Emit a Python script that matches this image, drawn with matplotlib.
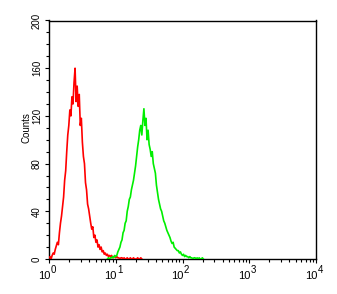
import numpy as np
import matplotlib
matplotlib.use("Agg")
import matplotlib.pyplot as plt
from matplotlib.ticker import FixedLocator, NullFormatter, LogLocator

plt.rcParams['font.family'] = ['Liberation Sans', 'DejaVu Sans']

# histogram channels: 64 channels per decade, 4 decades
channels_per_decade = 64
red_start_channel = 0
green_start_channel = 56

red_counts = [1, 2, 0, 3, 5, 4, 8, 11, 14, 12, 22, 30, 36, 44, 52, 66, 74, 90, 104, 112,
              125, 120, 136, 130, 148, 160, 132, 145, 128, 138, 112, 118, 98, 86, 80, 64,
              58, 46, 42, 36, 30, 25, 27, 18, 20, 14, 16, 10, 12, 8, 10, 6, 7, 4, 5, 3,
              4, 2, 3, 2, 3, 1, 2, 2, 1, 2, 1, 1, 0, 1, 1, 0, 1, 0, 0, 1, 0, 0, 1, 0,
              0, 1, 0, 0, 0, 1, 0, 0, 1, 0]

green_counts = [0, 1, 0, 1, 1, 2, 1, 3, 2, 3, 6, 8, 10, 14, 16, 22, 24, 30, 32, 40,
                44, 50, 52, 58, 62, 66, 72, 78, 86, 94, 100, 108, 112, 104, 116, 126, 112,
                118, 100, 108, 96, 92, 86, 90, 80, 76, 72, 62, 56, 50, 46, 42, 40, 36, 32,
                30, 27, 24, 22, 20, 18, 15, 13, 14, 10, 9, 8, 7, 7, 5, 6, 4, 3, 4, 2, 3,
                2, 2, 1, 2, 1, 1, 0, 1, 1, 0, 1, 0, 1, 0, 0, 1, 0]

y_ticks = [0, 40, 80, 120, 160, 200]
x_ticks = [1, 10, 100, 1000, 10000]
x_tick_bases = ['10', '10', '10', '10', '10']
x_tick_exponents = ['0', '1', '2', '3', '4']

fig = plt.figure(figsize=(3.37, 2.94), dpi=100)
ax = fig.add_axes([49/337, 1 - 259/294, (316 - 49)/337, (259 - 20.5)/294])

red_ch = np.arange(red_start_channel, red_start_channel + len(red_counts))
green_ch = np.arange(green_start_channel, green_start_channel + len(green_counts))
red_x = 10 ** (red_ch / channels_per_decade)
green_x = 10 ** (green_ch / channels_per_decade)

ax.plot(red_x, red_counts, color='#ff0000', lw=1.2, zorder=3)
ax.plot(green_x, green_counts, color='#00ee00', lw=1.2, zorder=3)

ax.set_xscale('log')
ax.set_xlim(1, 10000)
ax.set_ylim(0, 200)

ax.xaxis.set_major_locator(FixedLocator(x_ticks))
ax.xaxis.set_major_formatter(NullFormatter())
ax.xaxis.set_minor_locator(LogLocator(base=10, subs=np.arange(2, 10)))
ax.xaxis.set_minor_formatter(NullFormatter())

# x tick labels drawn as "10" with a large superscript exponent
for xt, b, e in zip(x_ticks, x_tick_bases, x_tick_exponents):
    ax.annotate(b, xy=(xt, 0), xycoords=('data', 'axes fraction'),
                xytext=(0.8, -8.5), textcoords='offset points',
                ha='right', va='top', fontsize=8, annotation_clip=False)
    ax.annotate(e, xy=(xt, 0), xycoords=('data', 'axes fraction'),
                xytext=(1.1, -4.5), textcoords='offset points',
                ha='left', va='top', fontsize=7, annotation_clip=False)

ax.set_yticks(y_ticks)
ax.set_yticklabels([str(v) for v in y_ticks], fontsize=7, rotation=90, va='center')
ax.yaxis.set_minor_locator(FixedLocator(np.arange(0, 201, 10)))

ax.tick_params(axis='both', which='major', direction='out', length=3, width=0.8, color='black')
ax.tick_params(axis='both', which='minor', direction='out', length=2.5, width=0.8, color='black')
ax.tick_params(axis='y', pad=2)

for s in ax.spines.values():
    s.set_linewidth(1.0)
    s.set_color('black')

ax.set_ylabel('Counts', fontsize=7)
ax.yaxis.set_label_coords(-0.065, 0.55)

fig.savefig('out.png', dpi=100)
